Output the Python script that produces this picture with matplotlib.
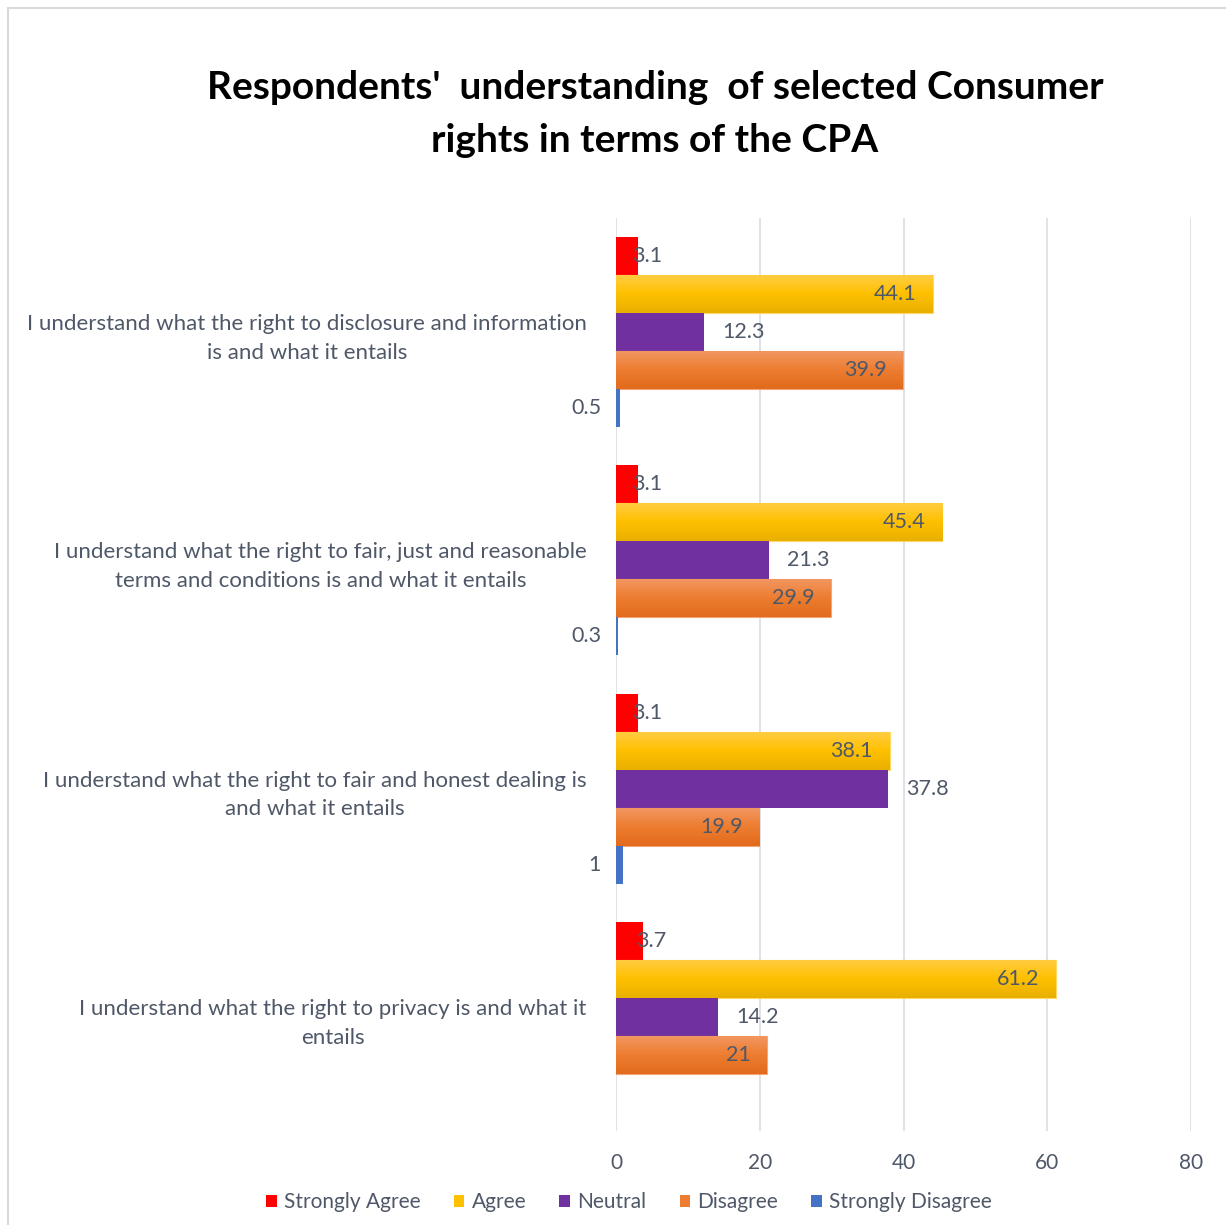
import numpy as np
import matplotlib.pyplot as plt
from matplotlib.colors import LinearSegmentedColormap
from matplotlib.patches import Rectangle, Patch
from matplotlib.transforms import offset_copy

plt.rcParams['font.family'] = ['Lato', 'DejaVu Sans']

# ---- data -------------------------------------------------------------
categories = [
    "I understand what the right to disclosure and information\nis and what it entails",
    "I understand what the right to fair, just and reasonable\nterms and conditions is and what it entails",
    "I understand what the right to fair and honest dealing is\nand what it entails",
    "I understand what the right to privacy is and what it\nentails",
]
series_names = ["Strongly Agree", "Agree", "Neutral", "Disagree", "Strongly Disagree"]
strongly_agree = [3.1, 3.1, 3.1, 3.7]
agree = [44.1, 45.4, 38.1, 61.2]
neutral = [12.3, 21.3, 37.8, 14.2]
disagree = [39.9, 29.9, 19.9, 21.0]
strongly_disagree = [0.5, 0.3, 1.0, None]
x_ticks = [0, 20, 40, 60, 80]

title = "Respondents'  understanding  of selected Consumer\nrights in terms of the CPA"

# ---- styling ----------------------------------------------------------
colors = ["#ff0000", "#ffc000", "#7030a0", "#ed7d31", "#4472c4"]
gradients = {
    1: ["#ffcd45", "#ffc000", "#e9b000"],
    3: ["#f29763", "#ed7d31", "#e26a1c"],
}
edge_light = {1: "#ffd968", 3: "#f4a67a"}
# label placement: (horizontal alignment, offset in px from anchor, anchor)
label_modes = [
    ("left", -6, "end"),
    ("right", -17, "end"),
    ("left", 18, "end"),
    ("right", -16, "end"),
    ("right", -15, "base"),
]
text_color = "#4f5868"

W, H = 1226, 1225
fig = plt.figure(figsize=(W / 100, H / 100), dpi=100)
ax = fig.add_axes([616 / W, (H - 1131) / H, 575 / W, (1131 - 218) / H])

values = [strongly_agree, agree, neutral, disagree, strongly_disagree]
n_series = len(values)
bar_h = 1.0 / (n_series + 1)
y_base = np.arange(len(categories))

for j, vals in enumerate(values):
    ys = y_base + (j - (n_series - 1) / 2) * bar_h
    widths = [np.nan if v is None else v for v in vals]
    bars = ax.barh(ys, widths, height=bar_h, color=colors[j], zorder=3,
                   edgecolor=edge_light.get(j, colors[j]),
                   linewidth=0.8 if j in edge_light else 0)
    if j in gradients:
        cmap = LinearSegmentedColormap.from_list(f"g{j}", gradients[j])
        grad = np.linspace(0, 1, 64).reshape(-1, 1)
        for p in bars.patches:
            if not np.isfinite(p.get_width()):
                continue
            x0, y0 = p.get_x(), p.get_y()
            im = ax.imshow(grad, cmap=cmap, aspect="auto",
                           extent=(x0, x0 + p.get_width(), y0 + p.get_height(), y0),
                           zorder=3.5, interpolation="bilinear")
            im.set_clip_path(p)
    ha, off, anchor = label_modes[j]
    for y, v in zip(ys, vals):
        if v is None:
            continue
        xpos = v if anchor == "end" else 0
        tr = offset_copy(ax.transData, fig=fig, x=off * 72 / 100, y=0, units="points")
        ax.text(xpos, y, f"{v:g}", transform=tr, ha=ha, va="center",
                fontsize=15.5, color=text_color, zorder=5)

ax.set_xlim(0, 80)
ax.set_ylim(len(categories) - 0.5, -0.5)
ax.set_xticks(x_ticks)
ax.set_xticklabels([str(t) for t in x_ticks])
ax.set_yticks(y_base)
ax.set_yticklabels(categories, multialignment="center", linespacing=1.55)
ax.tick_params(axis="y", length=0, pad=21, labelsize=16, labelcolor=text_color)
ax.tick_params(axis="x", length=0, pad=16, labelsize=15, labelcolor=text_color)
ax.grid(axis="x", color="#d9dde3", linewidth=1.2, zorder=0)
ax.set_axisbelow(True)
for s in ax.spines.values():
    s.set_visible(False)

fig.text(655 / W, 1 - 114 / H, title, ha="center", va="center",
         fontsize=28, fontweight="bold", color="#000000", linespacing=1.62)

handles = [Patch(facecolor=c, edgecolor="none") for c in colors]
fig.legend(handles, series_names, loc="center", bbox_to_anchor=(629 / W, 1 - 1202 / H),
           ncol=5, frameon=False, fontsize=15, handlelength=0.5, handleheight=0.5,
           handletextpad=0.35, columnspacing=1.6, labelcolor=text_color)

fig.add_artist(Rectangle((8 / W, -0.05), 1.2, 1 - 8 / H + 0.05, transform=fig.transFigure,
                         fill=False, edgecolor="#d9d9d9", linewidth=1.5))

fig.savefig("out.png", dpi=100)
